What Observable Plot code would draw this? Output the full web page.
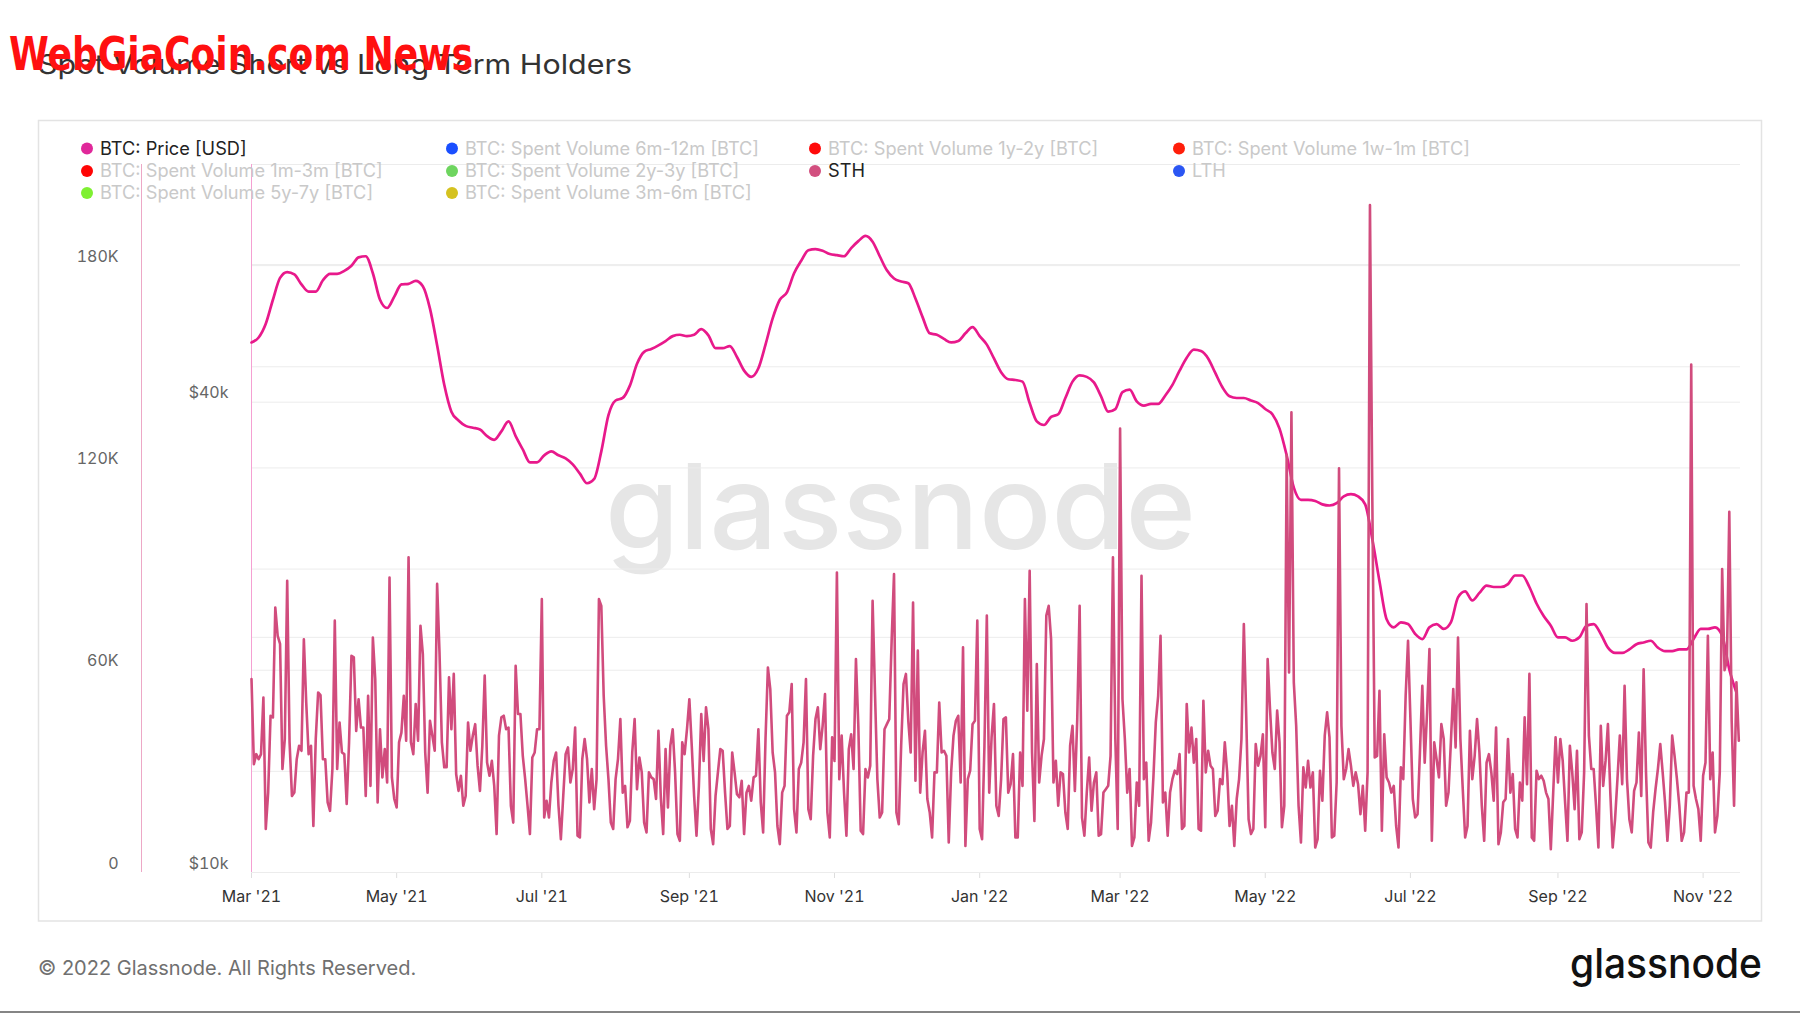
<!DOCTYPE html>
<html><head><meta charset="utf-8">
<script src="https://cdn.jsdelivr.net/npm/d3@7"></script>
<script src="https://cdn.jsdelivr.net/npm/@observablehq/plot@0.6"></script>
<style>
html,body{margin:0;padding:0;background:#fff;}
#page{position:relative;width:1800px;height:1013px;overflow:hidden;font-family:Inter,"Noto Sans",sans-serif;}
#page > svg{position:absolute;left:0;top:0;}
</style></head><body><div id="page"></div>
<script>
// ---------- data ----------
const titleText = "Spot Volume Short vs Long Term Holders";
const overlayText = "WebGiaCoin.com News";
const copyrightText = "© 2022 Glassnode. All Rights Reserved.";
const logoText = "glassnode";
const startDate = "2021-03-01";
const endDate = "2022-11-16T17:00:00Z";
const priceStepDays = 3;

// BTC price, thousands of USD, one value every 3 days from startDate
const btcPriceK = [
47.7,48.4,50.4,54.1,57.7,58.7,58.3,56.6,55.4,55.4,
57.3,58.4,58.4,58.9,59.8,61.3,61.5,58.5,54.1,52.8,
54.6,56.6,56.7,57.2,56.3,52.7,47.3,42.1,38.9,37.9,
37.3,37.1,36.9,36.2,35.8,36.7,37.8,36.2,34.8,33.5,
33.5,34.2,34.6,34.2,33.9,33.3,32.4,31.5,31.9,34.6,
38.5,40.2,40.5,42.0,44.8,46.4,46.8,47.3,47.9,48.6,
48.8,48.6,48.8,49.6,48.7,46.9,46.9,47.2,45.7,43.9,
43.1,44.2,47.4,51.2,54.1,55.3,58.5,60.7,62.6,62.8,
62.5,61.9,61.7,61.5,63.0,64.3,65.3,64.2,61.5,59.0,
57.6,57.1,56.8,54.3,51.4,49.0,48.8,48.2,47.7,47.9,
49.0,49.9,48.6,47.4,45.5,43.7,42.8,42.7,42.5,39.9,
37.8,37.4,38.3,38.6,40.5,42.5,43.3,43.1,42.4,40.7,
38.9,39.2,41.2,41.5,40.1,39.6,39.8,39.8,40.8,42.1,
43.9,45.6,46.7,46.5,45.5,43.6,41.8,40.7,40.5,40.5,
40.2,39.9,39.2,38.6,37.0,34.2,31.1,30.0,30.0,29.9,
29.6,29.5,29.7,30.3,30.5,30.3,29.6,26.7,23.6,21.1,
20.6,20.9,20.8,20.2,19.9,20.6,20.8,20.5,20.9,22.5,
22.9,22.3,22.8,23.3,23.2,23.2,23.4,24.0,24.0,23.2,
22.1,21.3,20.7,20.0,20.0,19.8,20.0,20.7,20.8,20.2,
19.4,19.1,19.1,19.3,19.6,19.7,19.8,19.4,19.2,19.2,
19.3,19.3,19.9,20.5,20.5,20.6,20.1,18.2,17.0
];

// STH spent volume, thousands of BTC, daily from startDate
const sthVolumeK = [
57.4,32.1,35.1,33.6,35.1,51.9,12.9,23.7,46.5,46.0,
78.6,70.2,67.8,30.7,39.6,86.5,38.6,22.7,23.7,33.6,
37.6,36.1,69.2,50.4,35.1,37.6,13.8,39.6,53.4,52.6,
33.6,33.6,20.8,18.3,30.7,74.7,30.7,44.5,35.6,35.1,
20.3,38.6,64.3,63.8,42.0,51.4,43.0,43.0,22.7,52.4,
25.7,69.7,57.4,20.8,42.5,28.2,36.6,26.7,87.5,28.2,
21.8,19.3,38.6,41.5,52.4,39.1,93.5,38.6,35.1,50.0,
39.1,73.2,64.8,35.6,23.7,45.0,40.6,36.1,85.6,65.3,
38.6,31.2,31.2,57.9,42.5,58.9,29.2,24.2,28.7,19.8,
22.7,44.5,36.1,40.6,44.0,31.7,24.2,37.6,58.4,32.6,
28.7,33.1,25.7,11.4,40.6,46.0,
46.5,42.5,43.0,19.8,14.8,61.3,47.0,47.0,34.6,27.7,
19.8,11.4,34.1,35.6,42.5,42.5,81.1,16.3,21.3,16.3,
26.7,33.1,35.6,19.8,9.9,22.7,35.1,37.1,26.7,30.7,
43.0,10.9,10.4,33.6,39.6,33.6,20.8,30.7,18.8,27.7,
81.1,79.1,52.4,37.6,27.7,14.8,12.9,27.7,33.6,45.5,
23.7,25.7,13.4,15.3,35.6,45.5,24.7,34.1,29.7,14.8,
11.9,29.7,28.2,27.7,21.8,42.0,22.3,11.4,36.6,19.3,
37.6,42.5,29.7,11.4,9.4,38.6,35.1,42.5,51.4,37.6,
22.7,10.9,25.7,47.0,33.1,49.0,42.5,12.9,8.4,22.7,
29.7,36.6,36.1,23.7,12.9,13.8,35.6,29.7,23.2,22.3,
27.2,11.4,23.7,25.7,21.3,28.2,
28.7,42.5,20.8,11.9,39.6,60.8,54.4,35.6,29.7,13.8,
8.4,23.7,25.7,46.5,47.5,55.9,18.8,11.9,30.7,32.6,
38.6,57.4,18.8,15.8,34.6,45.5,49.0,36.6,43.5,52.9,
17.8,10.4,40.1,33.1,89.0,27.7,40.6,23.7,10.9,36.6,
41.0,30.7,63.3,43.5,12.4,11.4,30.7,28.2,31.7,80.6,
53.4,27.7,16.3,17.8,42.5,44.0,45.5,68.7,88.5,17.8,
14.3,37.6,55.9,58.9,45.0,35.6,80.1,27.2,65.8,23.7,
35.6,42.0,21.8,17.8,10.4,29.7,29.7,50.4,35.6,36.1,
34.6,8.9,29.7,40.6,45.0,46.5,26.7,66.8,7.9,27.7,
30.2,44.0,45.0,74.7,12.9,9.9,37.6,76.2,23.7,40.1,
50.0,19.8,16.8,27.7,45.5,46.0,
23.7,26.2,35.1,10.4,10.4,35.6,25.7,81.1,48.0,89.5,
35.6,15.3,61.8,26.7,34.6,39.6,76.2,79.1,69.2,26.7,
33.1,19.8,29.7,29.2,17.8,12.9,37.6,43.5,24.2,45.5,
79.1,16.3,10.9,23.7,34.1,18.3,26.7,29.7,10.9,11.4,
23.7,24.7,25.7,34.6,93.5,39.6,12.9,131.7,51.4,39.6,
23.7,30.7,7.9,10.4,26.7,19.8,88.0,27.7,32.6,9.4,
14.8,28.2,44.5,52.4,70.2,20.8,23.7,10.9,23.7,27.7,
30.2,29.2,35.1,12.9,13.8,50.0,35.6,43.0,32.6,39.6,
12.9,12.4,50.9,29.7,36.1,31.7,30.7,16.8,18.3,27.7,
26.2,38.6,29.7,13.8,19.8,7.9,21.8,27.7,39.6,73.7,
46.5,15.8,11.4,12.9,38.1,31.7,
34.6,41.0,13.4,63.3,48.5,35.6,30.7,48.0,38.6,13.4,
19.8,123.9,59.3,136.5,56.4,43.5,19.8,8.9,31.2,25.2,
33.1,25.2,29.7,7.4,9.9,30.2,21.3,40.6,47.5,40.1,
10.4,10.9,26.7,119.9,43.5,27.7,30.7,36.6,31.7,25.7,
29.7,26.2,17.3,25.7,12.4,29.7,198.0,110.0,34.1,34.6,
53.9,12.4,41.0,28.2,26.7,23.7,25.7,13.8,7.4,31.2,
27.7,52.4,68.7,45.5,21.8,16.3,17.3,35.6,55.4,32.6,
47.5,66.3,9.4,38.6,33.6,28.2,44.0,39.6,19.8,23.7,
38.6,54.4,37.1,69.7,39.6,24.7,10.4,13.8,42.0,27.7,
34.6,45.5,35.6,19.8,9.4,32.6,35.1,29.7,21.3,43.0,
8.4,11.9,20.8,21.8,39.6,
23.7,29.2,12.9,10.4,26.7,21.3,46.0,26.2,58.9,10.4,
9.4,30.2,27.7,28.7,27.2,23.7,21.8,6.9,23.7,40.1,
26.7,39.6,33.1,20.8,9.4,37.6,29.7,18.8,36.1,9.9,
11.9,29.7,79.6,40.6,30.7,30.7,19.8,7.4,43.5,25.7,
33.1,44.0,23.7,7.4,15.8,27.7,40.6,26.2,55.4,27.7,
15.8,11.9,24.2,26.7,41.5,22.7,60.3,29.7,8.9,7.4,
17.8,24.7,30.7,38.1,29.7,20.8,9.4,19.8,40.6,34.6,
27.7,19.8,9.4,11.9,23.7,23.7,150.7,25.7,21.8,18.8,
9.4,28.7,32.6,70.2,27.7,35.6,11.9,16.8,29.7,90.0,
60.0,62.8,107.0,45.0,19.8,56.4,39.1
];

const volumeDomain = [0, 210000];
const volumeGridTicks = [0, 30000, 60000, 90000, 120000, 150000, 180000, 210000];
const volumeLabelTicks = [0, 60000, 120000, 180000];
const volumeLabels = ["0", "60K", "120K", "180K"];
const priceDomain = [10000, 80600];
const priceGridTicks = [10000, 20000, 40000, 60000];
const priceLabelTicks = [10000, 40000];
const priceLabels = ["$10k", "$40k"];
const xTickDates = ["2021-03-01","2021-05-01","2021-07-01","2021-09-01","2021-11-01",
  "2022-01-01","2022-03-01","2022-05-01","2022-07-01","2022-09-01","2022-11-01"];
const xTickLabels = ["Mar '21","May '21","Jul '21","Sep '21","Nov '21","Jan '22",
  "Mar '22","May '22","Jul '22","Sep '22","Nov '22"];

const legendLabels = [
  "BTC: Price [USD]", "BTC: Spent Volume 6m-12m [BTC]", "BTC: Spent Volume 1y-2y [BTC]", "BTC: Spent Volume 1w-1m [BTC]",
  "BTC: Spent Volume 1m-3m [BTC]", "BTC: Spent Volume 2y-3y [BTC]", "STH", "LTH",
  "BTC: Spent Volume 5y-7y [BTC]", "BTC: Spent Volume 3m-6m [BTC]"];
const legendColors = ["#e0289a","#1a4fff","#ff0a0a","#ff1e0a","#ff0505","#6ed55f","#d24f7f","#2b56f3","#7ff032","#d5c21f"];
const legendActive = [true,false,false,false,false,false,true,false,false,false];

const priceColor = "#e8198b";
const sthColor = "#d14c7d";

// ---------- build ----------
const start = new Date(startDate + "T00:00:00Z");
const xDomain = [start, new Date(endDate)];
const priceData = btcPriceK.map((v, i) => ({date: d3.utcDay.offset(start, i * priceStepDays), price: v * 1000}));
const volumeData = sthVolumeK.map((v, i) => ({date: d3.utcDay.offset(start, i), volume: v * 1000}));
const xTicks = xTickDates.map(s => new Date(s + "T00:00:00Z"));

const W = 1800, H = 1013;
const M = {left: 251, right: 60, top: 164, bottom: 141};
const common = {
  width: W, height: H,
  marginLeft: M.left, marginRight: M.right, marginTop: M.top, marginBottom: M.bottom,
  style: {background: "transparent", fontFamily: "Inter, 'Noto Sans', sans-serif", fontSize: "16px", overflow: "visible"}
};

const page = document.getElementById("page");

// background layer: frame + watermark
const bg = d3.select(page).append("svg").attr("width", W).attr("height", H);
bg.append("rect").attr("x", 38.5).attr("y", 120.5).attr("width", 1723).attr("height", 800.5)
  .attr("fill", "white").attr("stroke", "#e3e3e3").attr("stroke-width", 1.5);
bg.append("text").attr("x", 605).attr("y", 549).attr("textLength", 591).attr("lengthAdjust", "spacingAndGlyphs")
  .attr("font-family", "Inter, sans-serif").attr("font-weight", 500).attr("font-size", 118)
  .attr("fill", "#e6e6e6").text(logoText);

// layer 1: volume grid and axes
const layer1 = Plot.plot({
  ...common,
  x: {type: "utc", domain: xDomain},
  y: {domain: volumeDomain},
  marks: [
    Plot.gridY(volumeGridTicks, {stroke: "#ececec", strokeOpacity: 1}),
    Plot.ruleY([0], {stroke: "#dcdcdc"}),
    Plot.ruleX([start], {y1: volumeDomain[0], y2: volumeDomain[1], dx: -110, stroke: "#eda8c6"}),
    Plot.axisY(volumeLabelTicks, {anchor: "left", tickSize: 0, tickPadding: 133, dy: -9, fill: "#666", fontSize: 16,
      tickFormat: (d) => volumeLabels[volumeLabelTicks.indexOf(d)], label: null}),
    Plot.axisX(xTicks, {anchor: "bottom", tickSize: 6, tickPadding: 12, stroke: "#dddddd", fill: "#333", fontSize: 16,
      tickFormat: (d) => xTickLabels[xTicks.findIndex(t => +t === +d)], label: null})
  ]
});
page.appendChild(layer1);

// layer 2: price (log scale)
const layer2 = Plot.plot({
  ...common,
  x: {type: "utc", domain: xDomain, axis: null},
  y: {type: "log", domain: priceDomain},
  marks: [
    Plot.gridY(priceGridTicks, {stroke: "#ececec", strokeOpacity: 1}),
    Plot.ruleX([start], {y1: priceDomain[0], y2: priceDomain[1], stroke: "#f5a0d2"}),
    Plot.axisY(priceLabelTicks, {anchor: "left", tickSize: 0, tickPadding: 23, dy: -9, fill: "#666", fontSize: 16,
      tickFormat: (d) => priceLabels[priceLabelTicks.indexOf(d)], label: null}),
    Plot.line(priceData, {x: "date", y: "price", stroke: priceColor, strokeWidth: 2.7, curve: "monotone-x"})
  ]
});
page.appendChild(layer2);

// layer 3: STH spent volume
const layer3 = Plot.plot({
  ...common,
  x: {type: "utc", domain: xDomain, axis: null},
  y: {domain: volumeDomain, axis: null},
  marks: [
    Plot.line(volumeData, {x: "date", y: "volume", stroke: sthColor, strokeWidth: 2.6, strokeLinejoin: "round"})
  ]
});
page.appendChild(layer3);

// front layer: title, overlay, legend, footer
const fg = d3.select(page).append("svg").attr("width", W).attr("height", H);
fg.append("text").attr("x", 38).attr("y", 74).attr("textLength", 594).attr("lengthAdjust", "spacingAndGlyphs")
  .attr("font-family", "Inter, sans-serif").attr("font-size", 27).attr("fill", "#333").text(titleText);
fg.append("text").attr("x", 9).attr("y", 70).attr("textLength", 464).attr("lengthAdjust", "spacingAndGlyphs")
  .attr("font-family", "'Liberation Sans Narrow','DejaVu Sans Condensed','Liberation Sans',sans-serif")
  .attr("font-weight", "bold").attr("font-size", 46).attr("fill", "#ff1010").text(overlayText);

const colX = [87, 452, 815, 1179];
const rowY = [148.5, 171, 193];
legendLabels.forEach((lab, i) => {
  const cx = colX[i % 4], cy = rowY[Math.floor(i / 4)];
  fg.append("circle").attr("cx", cx).attr("cy", cy).attr("r", 6).attr("fill", legendColors[i]);
  fg.append("text").attr("x", cx + 13).attr("y", cy).attr("dy", "0.35em")
    .attr("font-family", "Inter, sans-serif").attr("font-size", 18.2)
    .attr("fill", legendActive[i] ? "#222" : "#c9c9c9").text(lab);
});

fg.append("text").attr("x", 38).attr("y", 975).attr("font-family", "Inter, sans-serif").attr("font-size", 20)
  .attr("fill", "#707070").text(copyrightText);
fg.append("text").attr("x", 1570).attr("y", 978).attr("textLength", 192).attr("lengthAdjust", "spacingAndGlyphs")
  .attr("font-family", "Inter, sans-serif").attr("font-weight", 500).attr("font-size", 41)
  .attr("fill", "#111").text(logoText);
fg.append("rect").attr("x", 0).attr("y", 1011).attr("width", W).attr("height", 2).attr("fill", "#858585");
</script>
</body></html>
